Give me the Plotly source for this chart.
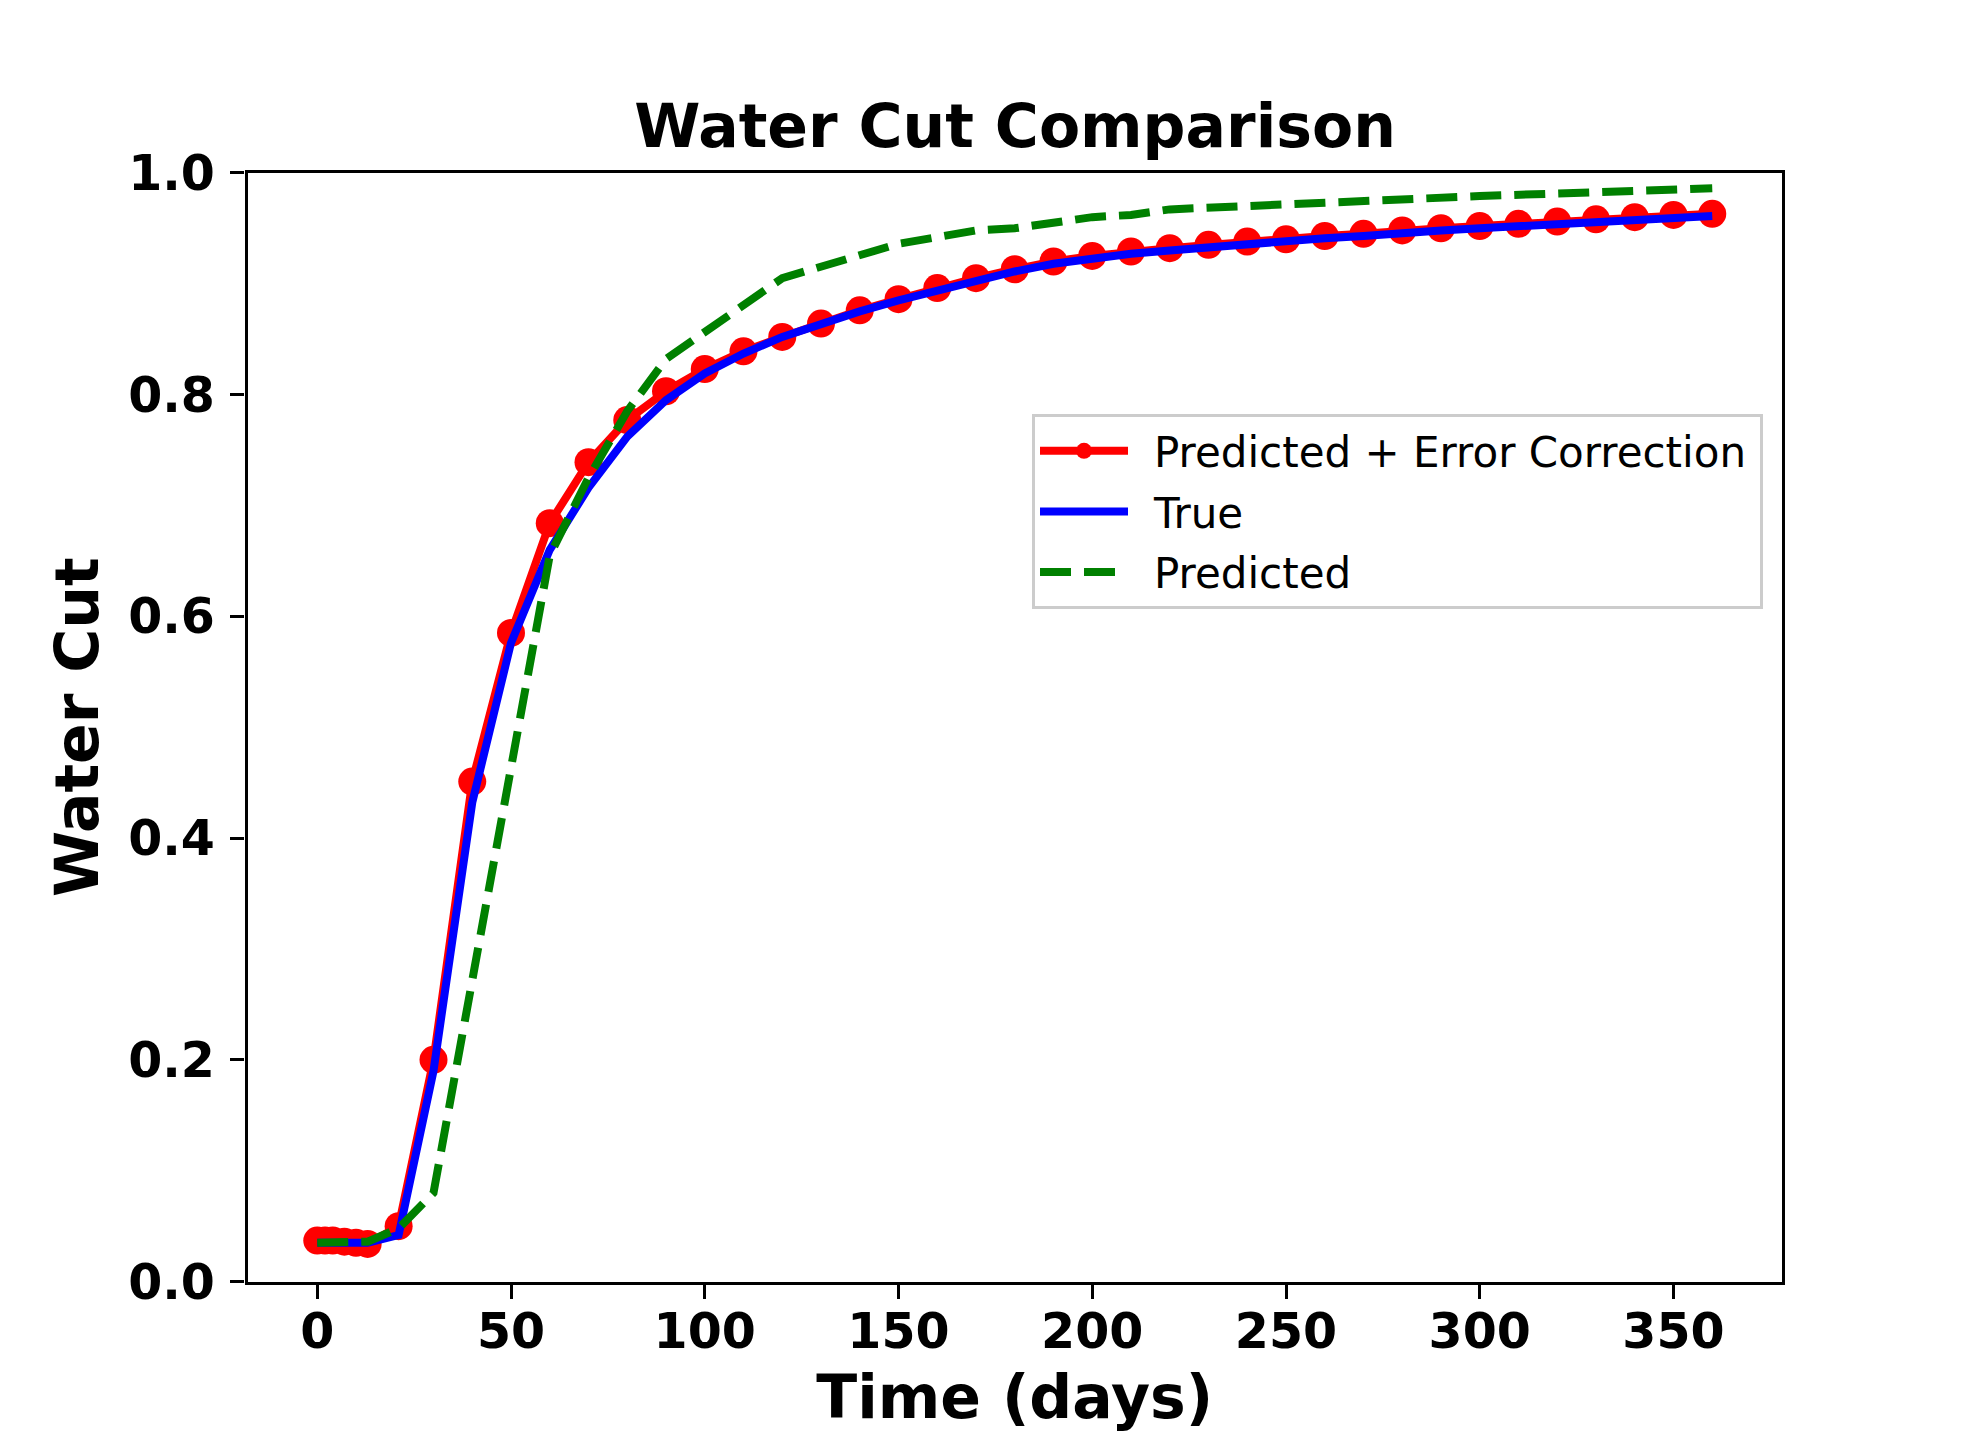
import plotly.graph_objects as go

# time axis (days) shared by the corrected and the true curves
days = [0, 2, 4, 7, 10, 13, 21, 30, 40, 50, 60, 70, 80, 90, 100, 110, 120,
        130, 140, 150, 160, 170, 180, 190, 200, 210, 220, 230, 240, 250, 260,
        270, 280, 290, 300, 310, 320, 330, 340, 350, 360]

wc_corrected = [0.037, 0.037, 0.037, 0.036, 0.035, 0.034, 0.050, 0.200, 0.451,
                0.585, 0.684, 0.739, 0.777, 0.803, 0.823, 0.839, 0.852, 0.864,
                0.876, 0.886, 0.896, 0.905, 0.913, 0.920, 0.925, 0.929, 0.932,
                0.935, 0.938, 0.940, 0.943, 0.945, 0.948, 0.950, 0.952, 0.954,
                0.956, 0.958, 0.960, 0.962, 0.963]

wc_true = [0.035, 0.035, 0.035, 0.035, 0.035, 0.035, 0.042, 0.190, 0.432,
           0.576, 0.660, 0.716, 0.762, 0.795, 0.819, 0.837, 0.852, 0.864,
           0.875, 0.885, 0.894, 0.903, 0.911, 0.918, 0.923, 0.927, 0.930,
           0.933, 0.936, 0.938, 0.941, 0.943, 0.946, 0.948, 0.950, 0.952,
           0.954, 0.956, 0.958, 0.960, 0.961]

# the predicted curve only bends at these days
days_pred = [0, 13, 21, 30, 60, 70, 80, 90, 120, 150, 170, 180, 200, 210,
             220, 260, 300, 360]
wc_pred = [0.035, 0.036, 0.048, 0.080, 0.655, 0.725, 0.785, 0.832, 0.905,
           0.936, 0.948, 0.950, 0.960, 0.962, 0.967, 0.973, 0.979, 0.986]

x_ticks = [0, 50, 100, 150, 200, 250, 300, 350]
y_ticks = [0.0, 0.2, 0.4, 0.6, 0.8, 1.0]

FONT = "DejaVu Sans"
# the page body adds 8px around the figure, so the figure is 16px smaller
W, H = 1964, 1424
GAP = "\u2002"  # wider gap between legend symbol and label

fig = go.Figure()
fig.add_trace(go.Scatter(x=days, y=wc_corrected, mode="lines+markers",
                         name=GAP + "Predicted + Error Correction" + "\u2009",
                         legendgroup="a",
                         line=dict(color="red", width=8),
                         marker=dict(color="red", size=28)))
fig.add_trace(go.Scatter(x=days, y=wc_true, mode="lines", name=GAP + "True",
                         legendgroup="b",
                         line=dict(color="blue", width=8)))
fig.add_trace(go.Scatter(x=days_pred, y=wc_pred, mode="lines",
                         name=GAP + "Predicted", legendgroup="c",
                         line=dict(color="green", width=8, dash="31px,13px")))

axis_common = dict(
    showline=True, linecolor="black", linewidth=3.3, mirror=True,
    ticks="outside", ticklen=14.6, tickwidth=3.3, tickcolor="black",
    showgrid=False, zeroline=False, automargin=False,
    tickfont=dict(family=FONT, size=49, color="black", weight="bold"),
)

fig.update_layout(
    width=W, height=H,
    margin=dict(l=0, r=0, t=0, b=0, autoexpand=False),
    paper_bgcolor="white", plot_bgcolor="white",
    font=dict(family=FONT, color="black"),
    title=dict(text="<b>Water Cut Comparison</b>", x=1007 / W, xref="paper",
               xanchor="center", y=1 - 118 / H, yref="paper", yanchor="middle",
               font=dict(family=FONT, size=60, color="black")),
    xaxis=dict(domain=[239.5 / W, 1774 / W], range=[-18, 378],
               tickvals=x_ticks, ticklabelstandoff=-10,
               title=dict(text="Time (days)", standoff=38,
                          font=dict(family=FONT, size=60, color="black",
                                    weight="bold")),
               **axis_common),
    yaxis=dict(domain=[1 - 1273.6 / H, 1 - 164.8 / H], range=[0, 1],
               tickvals=y_ticks, tickformat=".1f", ticklabelstandoff=5,
               title=dict(text="Water Cut", standoff=11,
                          font=dict(family=FONT, size=60, color="black",
                                    weight="bold")),
               **axis_common),
    legend=dict(x=1755 / W, xanchor="right", y=1 - 406 / H, yanchor="top",
                bgcolor="white", bordercolor="#cccccc", borderwidth=3,
                font=dict(family=FONT, size=42, color="black"),
                itemwidth=88, tracegroupgap=3),
    showlegend=True,
)

fig.write_html("out.html")
